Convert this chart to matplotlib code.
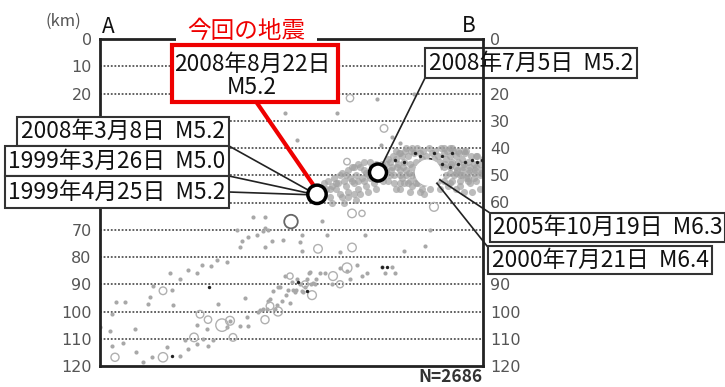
import matplotlib
matplotlib.use('Agg')
import matplotlib.pyplot as plt
from matplotlib.patches import Rectangle
from matplotlib.lines import Line2D

plt.rcParams['font.family'] = ['Noto Sans CJK JP', 'DejaVu Sans']

W, H = 725, 387

depth_ticks = [0, 10, 20, 30, 40, 50, 60, 70, 80, 90, 100, 110, 120]
left_labels = ['0', '10', '20', '', '', '', '', '70', '80', '90', '100', '110', '120']
right_labels = ['0', '', '20', '30', '40', '50', '60', '', '', '90', '100', '110', '120']
grid_depths = [10, 20, 30, 40, 50, 60, 70, 80, 90, 100, 110]

# gray dots along the deep part of the section (distance, depth)
small_x = [153, 165, 140, 142, 148, 157, 137, 165, 172, 183, 202, 200, 202, 227, 222,
           70, 88, 102, 111, 117, 127, 97, 80, 53, 72, 50, 48, 73, 16, 25, 12, 118, 145,
           130, 127, 140, 148, 147, 97, 107, 85, 103, 113, 108, 97, 88, 67, 80, 52, 43,
           12, 35, 10, 23, 0, 36, 197, 207, 213, 210, 220, 202, 193, 173, 170, 177, 167,
           190, 195, 160, 180, 240, 247, 257, 262, 267, 282, 292, 285, 295, 265, 304, 325,
           330, 185, 237, 197, 277, 314, 300, 292, 281, 240, 250, 225, 232, 215, 185, 178,
           200, 205, 192, 188, 211, 216, 196, 203, 209, 186, 182, 175, 163, 168, 158, 165, 163, 168]
small_depth = [65.5, 65.5, 76.5, 74, 72.8, 72, 70, 76.5, 74, 73.8, 72, 74.6, 77.7, 72, 66.7,
               85.9, 84.8, 83, 83.2, 81, 82, 86, 88, 90.5, 92, 94.8, 97.3, 97.5, 96.4, 96.4, 101, 97.3, 95,
               103.4, 105.8, 105.2, 105.2, 102, 105, 106.4, 110.4, 110, 110.4, 112.5, 112, 113.8, 113, 116.2, 116.8, 118.7,
               112.5, 106.4, 107.3, 111.6, 105.6, 115, 88, 88, 89.5, 85.5, 86, 92.5, 92, 92.5, 95.5, 97.5, 99,
               97, 93, 99.5, 91, 84, 85, 83, 87, 86, 83.8, 83.8, 86, 86, 72, 77.8, 75.8,
               70, 27, 27, 37, 22, 20, 38, 36, 39, 78, 88, 86, 90, 90, 87, 91,
               90, 91, 89, 92, 90, 88, 92, 93, 86, 94, 96, 99, 99, 96, 100, 69.5, 70.5, 70]

# open circles
ring_x = [218, 252, 252, 63, 100, 108, 122, 130, 165, 94, 133, 63, 15, 170, 178, 212, 247, 334, 250, 284, 247, 233, 190, 205, 240, 262]
ring_depth = [77, 76.5, 64, 92.4, 101, 103, 105, 103.4, 103, 109.5, 109.5, 116.8, 116.8, 98, 100, 94, 45, 61.6, 21.7, 32.8, 84, 87, 87, 90, 90, 64]
ring_size = [38, 38, 38, 30, 30, 28, 80, 40, 34, 38, 30, 45, 34, 30, 42, 40, 22, 40, 28, 30, 50, 40, 20, 24, 26, 20]

# the dense gray band of the plate boundary
band_x = [220, 226, 232, 238, 244, 250, 256, 262, 268, 222, 230, 240, 248, 258, 266, 274, 236, 246, 254, 264,
          272, 282, 290, 296, 302, 308, 314, 320, 326, 332, 338, 344, 350, 356, 362, 368, 374, 380,
          292, 298, 304, 310, 316, 322, 328, 334, 340, 346, 352, 358, 364, 370, 376, 382,
          284, 290, 300, 306, 312, 318, 344, 350, 356, 362, 368, 374, 294, 302, 310, 316, 322, 338, 346, 354, 360, 366,
          300, 310, 320, 330, 340, 350, 360, 370, 286, 296, 350, 358, 366, 376, 312, 306, 300, 344, 352, 364,
          288, 293, 299, 305, 311, 317, 323, 329, 335, 341, 347, 353, 359, 365, 371, 377, 383,
          286, 291, 297, 303, 309, 315, 321, 327, 333, 339, 345, 351, 357, 363, 369, 375, 381,
          283, 288, 294, 300, 306, 312, 318, 350, 356, 362, 368, 374, 380,
          296, 304, 312, 318, 324, 344, 352, 360, 368, 376,
          300, 308, 316, 324, 348, 356, 364, 372, 380,
          252, 258, 264, 270, 276, 242, 248, 254, 260, 266, 272, 228, 234, 240, 246, 252, 258, 264, 270,
          224, 230, 236, 242, 248, 254, 260, 268, 276, 232, 244, 256]
band_depth = [56, 55, 54, 53, 52, 51, 50, 51, 50, 58, 58, 57, 56, 55, 54, 53, 53, 54, 53, 48,
              48, 46, 45, 44, 43, 43, 42, 42, 43, 42, 43, 42, 43, 43, 44, 45, 46, 46,
              47, 46, 45, 46, 45, 44, 45, 44, 45, 44, 45, 45, 46, 47, 47, 48,
              50, 50, 48, 48, 47, 48, 47, 47, 47, 48, 49, 49, 53, 51, 52, 51, 55, 52, 50, 50, 50, 51,
              55, 56, 56, 55, 55, 53, 54, 53, 48, 41, 40, 41, 41, 43, 40, 40, 42, 40, 40, 41,
              44, 43, 42, 41, 41, 40, 41, 40, 41, 40, 41, 41, 42, 42, 43, 43, 44,
              46, 48, 47, 47, 49, 49, 46, 47, 47, 47, 46, 46, 48, 47, 48, 48, 49,
              52, 52, 50, 50, 50, 50, 50, 49, 49, 50, 51, 51, 50,
              55, 53, 54, 53, 53, 52, 52, 52, 52, 52,
              53, 53, 53, 57, 54, 55, 56, 56, 55,
              47, 46, 45, 45, 46, 49, 48, 47, 47, 49, 47, 52, 51, 50, 50, 52, 52, 52, 51,
              53, 55, 55, 58, 58, 57, 57, 56, 55, 60, 60, 59]

# black specks
dark_x = [109, 198, 207, 72, 295, 304, 315, 334, 342, 352, 342, 350, 365, 377, 282, 287, 320, 330, 358, 372, 382]
dark_depth = [91, 89.3, 92.4, 116.2, 44.4, 45, 42, 42, 43, 42, 46, 47, 45, 45, 83.8, 83.8, 43, 44, 46, 44.5, 44.5]

# marked events: distance, depth, marker area
ev_x = [217, 278, 328, 191]
ev_depth = [57, 49, 49, 67]
ev_size = [175, 150, 320, 95]
ev_face = ['white', 'white', 'white', 'none']
ev_edge = ['black', 'black', 'white', '#666666']
ev_lw = [2.5, 2.5, 1, 1.3]

# label boxes in picture pixels: text, x0, y0, x1, y1
labels = [
    ('2008年3月8日  M5.2', 17, 117, 229, 146),
    ('1999年3月26日  M5.0', 5, 146, 229, 176),
    ('1999年4月25日  M5.2', 5, 176, 229, 208),
    ('2008年7月5日  M5.2', 425, 48, 637, 78),
    ('2005年10月19日  M6.3', 490, 213, 725, 242),
    ('2000年7月21日  M6.4', 488, 246, 712, 274),
]
# leader lines: x0, y0, x1, y1 in picture pixels
leaders = [
    (229, 146, 317, 195),
    (229, 176, 317, 195),
    (229, 192, 317, 195),
    (425, 78, 378, 173),
    (428, 172, 490, 213),
    (428, 172, 487, 246),
]


def fx(p):
    return p / W


def fy(p):
    return 1 - p / H


fig = plt.figure(figsize=(W / 100, H / 100), dpi=100)
ax = fig.add_axes([fx(100), fy(366), (483 - 100) / W, (366 - 39) / H])
ax.set_xlim(0, 383)
ax.set_ylim(120, 0)
ax.set_xticks([])
ax.set_yticks(depth_ticks, left_labels, family='DejaVu Sans', fontsize=11.5, color='#555555')
ax.tick_params(axis='y', length=0, pad=6)
sec = ax.secondary_yaxis('right')
sec.set_yticks(depth_ticks, right_labels, family='DejaVu Sans', fontsize=11.5, color='#555555')
sec.tick_params(axis='y', length=0, pad=5)
sec.spines['right'].set_visible(False)
for s in ax.spines.values():
    s.set_linewidth(2)
    s.set_color('#222222')

for d in grid_depths:
    ax.axhline(d, color='#555555', lw=1.3, ls=(0, (1, 1)), zorder=1)

ax.scatter(band_x, band_depth, s=26, color='#a0a0a0', alpha=0.7, linewidths=0, zorder=2)
ax.scatter(small_x, small_depth, s=9, color='#a8a8a8', linewidths=0, zorder=2)
ax.scatter(ring_x, ring_depth, s=ring_size, facecolors='none', edgecolors='#b0b0b0', linewidths=1, zorder=2)
ax.scatter(dark_x, dark_depth, s=6, color='#222222', linewidths=0, zorder=3)

# leaders go under the event circles
for x0, y0, x1, y1 in leaders:
    ax.add_line(Line2D([fx(x0), fx(x1)], [fy(y0), fy(y1)], color='#222222', lw=1.2, zorder=3.5,
                       transform=fig.transFigure, clip_on=False))
ax.add_line(Line2D([fx(257), fx(312)], [fy(103), fy(183)], color='#ee0000', lw=3, zorder=3.5,
                   transform=fig.transFigure, clip_on=False))
ax.scatter(ev_x, ev_depth, s=ev_size, facecolors=ev_face, edgecolors=ev_edge, linewidths=ev_lw, zorder=4)

for txt, x0, y0, x1, y1 in labels:
    fig.add_artist(Rectangle((fx(x0), fy(y1)), (x1 - x0) / W, (y1 - y0) / H, transform=fig.transFigure,
                             facecolor='white', edgecolor='#333333', lw=1.5, zorder=3, clip_on=False))
    fig.text(fx((x0 + x1) / 2), fy((y0 + y1) / 2), txt, ha='center', va='center',
             fontsize=16.4, color='#111111', zorder=4)

# right axis shows through the July label
fig.add_artist(Line2D([fx(483), fx(483)], [fy(48), fy(78)], color='#222222', lw=2, zorder=3.5))

# the highlighted event
fig.add_artist(Rectangle((fx(176), fy(42)), 141 / W, 24 / H, transform=fig.transFigure,
                         facecolor='white', edgecolor='none', zorder=3))
fig.add_artist(Rectangle((fx(172), fy(102)), 166 / W, 57 / H, transform=fig.transFigure,
                         facecolor='white', edgecolor='#ee0000', lw=3, zorder=3))
fig.text(fx(252), fy(64), '2008年8月22日', ha='center', va='center', fontsize=16.4, color='#111111', zorder=4)
fig.text(fx(252), fy(88), 'M5.2', ha='center', va='center', fontsize=16.4, color='#111111', zorder=4)
fig.text(fx(246), fy(31), '今回の地震', ha='center', va='center', fontsize=17, color='#ee0000', zorder=4)

fig.text(fx(63), fy(21), '(km)', ha='center', va='center', fontsize=12, color='#555555')
fig.text(fx(108), fy(27), 'A', ha='center', va='center', fontsize=15, color='#111111')
fig.text(fx(469), fy(26), 'B', ha='center', va='center', fontsize=15, color='#111111')
fig.text(fx(482), fy(377), 'N=2686', ha='right', va='center', fontsize=12.5, color='#333333', fontweight='bold')

fig.savefig('out.png', dpi=100, facecolor='white')
